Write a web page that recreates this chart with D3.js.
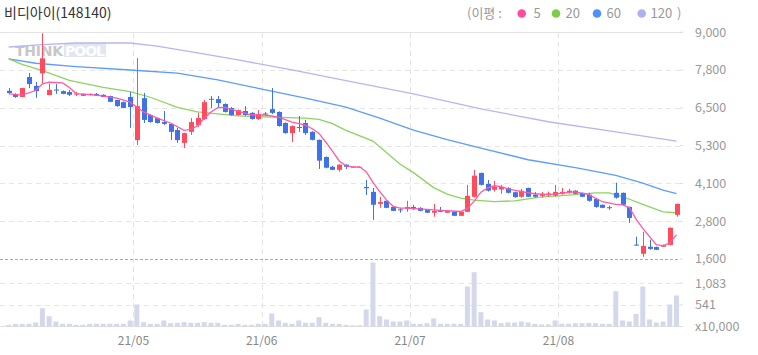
<!DOCTYPE html>
<html>
<head>
<meta charset="utf-8">
<script src="https://cdn.jsdelivr.net/npm/d3@7"></script>
<style>
body { margin: 0; background: #fff; }
svg { display: block; font-family: "Noto Sans CJK KR", "Noto Sans", sans-serif; }
</style>
</head>
<body>
<svg id="chart" width="758" height="355"></svg>
<script>
// 일봉 데이터 (2021-04 ~ 2021-08)
let opens = [7090, 6980, 6890, 7540, 7250, 7660, 6950, 7130, 7080, 7050,
    6970, 6990, 6950, 6990, 6960, 6920, 6790, 6720, 6890, 5480,
    6850, 6300, 6200, 6070, 6010, 5810, 5390, 5750, 5970, 6170,
    6830, 6820, 6660, 6530, 6300, 6430, 6370, 6170, 6350, 6490,
    6400, 6040, 5710, 5910, 6040, 5750, 5490, 4930, 4610, 4510,
    4680, 4610, 4610, 3950, 3790, 3400, 3500, 3300, 3220, 3240,
    3300, 3270, 3200, 3110, 3200, 3110, 3140, 3010, 3140, 3630,
    4410, 4050, 3860, 3870, 3920, 3780, 3630, 3920, 3700, 3660,
    3680, 3670, 3730, 3770, 3830, 3760, 3700, 3560, 3370, 3290,
    3760, 3760, 3300, 2070, 1770, 2000, 1990, 2000, 2060, 3040];
let highs = [7180, 7010, 7190, 7670, 7380, 8970, 7330, 7310, 7100, 7120,
    7050, 7000, 7010, 7020, 6980, 6930, 6800, 6740, 7050, 8160,
    7020, 6330, 6220, 6430, 6020, 5880, 5720, 6200, 6370, 6790,
    6920, 6920, 6680, 6560, 6480, 6590, 6390, 6460, 6400, 7180,
    6420, 6060, 5960, 6270, 6140, 5770, 5500, 4950, 4640, 4690,
    4690, 4610, 4610, 4180, 3920, 3630, 3510, 3320, 3270, 3500,
    3370, 3290, 3220, 3400, 3300, 3180, 3150, 3150, 4020, 4510,
    4420, 4180, 4150, 4020, 3940, 3800, 3890, 3930, 3790, 3790,
    3800, 4020, 3920, 3890, 3840, 3770, 3760, 3600, 3380, 3340,
    4090, 3770, 3310, 2330, 2490, 2230, 2010, 2070, 2630, 3410];
let lows = [6990, 6860, 6880, 7180, 6860, 7330, 6950, 6990, 6980, 6920,
    6920, 6920, 6940, 6920, 6880, 6720, 6570, 6520, 5880, 5320,
    6040, 6050, 6020, 5970, 5480, 5390, 5220, 5650, 5910, 6140,
    6530, 6530, 6380, 6280, 6280, 6270, 6150, 6140, 6270, 6330,
    5920, 5690, 5420, 5750, 5650, 5470, 4540, 4560, 4500, 4450,
    4540, 4610, 4610, 3690, 2880, 3270, 3260, 3160, 3110, 3140,
    3200, 3160, 3100, 2980, 3130, 3100, 3000, 3000, 3130, 3600,
    4000, 3800, 3800, 3730, 3740, 3600, 3600, 3620, 3600, 3600,
    3630, 3630, 3700, 3730, 3720, 3620, 3470, 3270, 3260, 3210,
    3570, 3360, 2780, 2030, 1670, 1900, 1890, 1990, 2050, 2980];
let closes = [7020, 6890, 7180, 7310, 7080, 8150, 7120, 7100, 6990, 6960,
    7000, 6930, 6990, 6930, 6890, 6730, 6590, 6530, 6560, 6590,
    6140, 6070, 6040, 6010, 5750, 5480, 5710, 6070, 6200, 6720,
    6800, 6690, 6400, 6300, 6460, 6300, 6170, 6330, 6320, 6370,
    5940, 5710, 5940, 5880, 5710, 5490, 4810, 4580, 4510, 4680,
    4610, 4610, 4610, 3910, 3370, 3460, 3270, 3170, 3200, 3300,
    3240, 3170, 3110, 3170, 3140, 3170, 3010, 3140, 3660, 4320,
    4020, 3830, 3950, 3950, 3760, 3620, 3830, 3630, 3630, 3730,
    3740, 3790, 3790, 3830, 3730, 3630, 3500, 3300, 3270, 3270,
    3600, 3370, 2940, 2040, 2030, 1930, 1900, 2060, 2620, 3400];
// 거래량 (단위: 만주)
let volumes = [42, 65, 65, 67, 100, 457, 257, 125, 67, 67,
    42, 42, 62, 67, 67, 67, 67, 67, 150, 550,
    108, 67, 67, 150, 82, 92, 108, 92, 92, 108,
    92, 92, 42, 42, 67, 42, 42, 67, 67, 325,
    150, 92, 67, 150, 92, 92, 232, 92, 67, 67,
    42, 30, 30, 425, 1600, 257, 175, 125, 125, 150,
    67, 67, 82, 200, 67, 67, 67, 67, 1000, 1357,
    357, 175, 150, 82, 100, 100, 125, 100, 67, 50,
    50, 150, 67, 67, 82, 82, 92, 82, 67, 67,
    882, 150, 125, 317, 1000, 175, 100, 125, 550, 775];

// 이동평균선 [봉 index, 값]
let ma5 = [[0, 6990], [2, 6950], [4, 7100], [5, 7320], [6, 7370], [8, 7350], [9, 7200], [10, 7000],
    [13, 6950], [16, 6850], [18, 6720], [20, 6400], [22, 6200], [24, 6040], [26, 5800], [27, 5830],
    [28, 5950], [29, 6200], [30, 6400], [31, 6540], [32, 6550], [34, 6430], [36, 6300], [38, 6300],
    [40, 6230], [42, 6070], [44, 5970], [45, 5850], [46, 5700], [47, 5420], [48, 5120], [49, 4800],
    [50, 4640], [51, 4610], [52, 4610], [53, 4450], [54, 4100], [55, 3800], [56, 3530], [57, 3320],
    [58, 3260], [59, 3260], [62, 3220], [64, 3190], [67, 3150], [68, 3250], [69, 3480], [70, 3780],
    [71, 3920], [72, 3990], [73, 3960], [74, 3890], [76, 3800], [78, 3730], [80, 3700], [82, 3750],
    [84, 3790], [86, 3700], [88, 3470], [90, 3380], [91, 3370], [92, 3280], [93, 2900], [94, 2600],
    [95, 2330], [96, 2070], [97, 2030], [98, 2130], [99, 2390]];
let ma20 = [[0, 8130], [2, 7950], [5, 7750], [9, 7430], [14, 7200], [18, 7060], [21, 6880], [25, 6550],
    [28, 6400], [34, 6270], [39, 6230], [44, 6200], [46, 6160], [48, 6020], [50, 5800], [54, 5450],
    [58, 4700], [60, 4420], [63, 3930], [65, 3720], [67, 3590], [69, 3520], [72, 3470], [75, 3500],
    [79, 3630], [82, 3670], [87, 3760], [89, 3760], [91, 3640], [94, 3380], [97, 3140], [99, 3110]];
let ma60 = [[0, 8130], [4, 7990], [10, 7880], [18, 7770], [25, 7670], [31, 7450], [37, 7170], [44, 6850],
    [50, 6560], [55, 6200], [60, 5810], [65, 5500], [70, 5220], [77, 4840], [84, 4580], [90, 4330],
    [94, 4080], [97, 3850], [99, 3730]];
let ma120 = [[0, 8520], [5, 8600], [10, 8650], [18, 8650], [22, 8550], [28, 8330], [34, 8100], [42, 7770],
    [50, 7420], [60, 6990], [70, 6500], [80, 6080], [90, 5750], [99, 5450]];

let monthLabels = ['21/05', '21/06', '21/07', '21/08'];
let monthStarts = [19, 38, 60, 82];
let priceTicks = [9000, 7767, 6533, 5300, 4067, 2833, 1600];
let priceTickLabels = ['9,000', '7,800', '6,500', '5,300', '4,100', '2,800', '1,600'];
let volumeTicks = [1083, 541, 0];
let volumeTickLabels = ['1,083', '541', 'x10,000'];
let maNames = ['5', '20', '60', '120'];
let maColors = ['#ff5aa5', '#8dd35f', '#5c9cff', '#b7b6f1'];
let maDotColors = ['#ff4aa0', '#7fcc4a', '#4d90ff', '#b0b0f0'];

let svg = d3.select('#chart');
let upColor = '#ff4b5c';
let downColor = '#3f72e8';

// 스케일
let n = closes.length;
let xScale = d3.scaleBand()
    .domain(d3.range(n))
    .range([5.3, 679.9])
    .paddingInner(0.26)
    .paddingOuter(0.13);
let bw = xScale.bandwidth();
let cx = function (i) { return xScale(i) + bw / 2; };
let yScale = d3.scaleLinear().domain([1600, 9000]).range([259, 32.3]);
let vScale = d3.scaleLinear().domain([0, 1624]).range([326.5, 261.5]);

// 제목
svg.append('text')
    .attr('x', 4).attr('y', 18)
    .attr('font-size', 14).attr('fill', '#333')
    .text('비디아이(148140)');

// 범례
let lg = svg.append('g').attr('font-size', 13).attr('fill', '#999');
lg.append('text').attr('x', 467).attr('y', 18).text('(이평 :');
let dotX = [521.7, 556, 597, 641.7];
let labX = [533.5, 565.5, 606.5, 650.5];
maNames.forEach(function (name, i) {
    lg.append('circle').attr('cx', dotX[i]).attr('cy', 13.5).attr('r', 4.3).attr('fill', maDotColors[i]);
    lg.append('text').attr('x', labX[i]).attr('y', 18).text(name);
});
lg.append('text').attr('x', 677).attr('y', 18).text(')');

// 워터마크
let wm = svg.append('g').attr('opacity', 0.55);
wm.append('rect').attr('x', 64).attr('y', 43).attr('width', 42).attr('height', 14).attr('fill', '#c9d2e4');
wm.append('text').attr('x', 15).attr('y', 56)
    .attr('font-family', 'DejaVu Sans').attr('font-weight', 'bold').attr('font-size', 14)
    .attr('fill', '#9a9a9a').attr('textLength', 48).text('THINK');
wm.append('text').attr('x', 65).attr('y', 56)
    .attr('font-family', 'DejaVu Sans').attr('font-weight', 'bold').attr('font-size', 14)
    .attr('fill', '#fff').attr('textLength', 40).text('POOL');

// 그리드
let grid = svg.append('g');
grid.append('line').attr('x1', 0).attr('x2', 682).attr('y1', 32.5).attr('y2', 32.5)
    .attr('stroke', '#e3e3e3');
priceTicks.slice(1, -1).forEach(function (t) {
    let y = Math.round(yScale(t)) + 0.5;
    grid.append('line').attr('x1', 0).attr('x2', 680).attr('y1', y).attr('y2', y)
        .attr('stroke', '#e6e6e6').attr('stroke-dasharray', '5,4');
});
volumeTicks.slice(0, 2).forEach(function (t) {
    let y = Math.round(vScale(t)) + 0.5;
    grid.append('line').attr('x1', 0).attr('x2', 680).attr('y1', y).attr('y2', y)
        .attr('stroke', '#e6e6e6').attr('stroke-dasharray', '5,4');
});
monthStarts.forEach(function (m) {
    let x = Math.round(xScale(m) - (xScale.step() - bw) / 2) + 0.5;
    grid.append('line').attr('x1', x).attr('x2', x).attr('y1', 33).attr('y2', 326)
        .attr('stroke', '#e3e3e3').attr('stroke-dasharray', '5,4');
});
grid.append('line').attr('x1', 0).attr('x2', 680).attr('y1', 259.5).attr('y2', 259.5)
    .attr('stroke', '#aaa').attr('stroke-dasharray', '3,2');
grid.append('line').attr('x1', 0).attr('x2', 680).attr('y1', 326.5).attr('y2', 326.5)
    .attr('stroke', '#e0e0e0');

// 거래량
svg.append('g').selectAll('rect')
    .data(volumes)
    .enter()
    .append('rect')
    .attr('x', function (d, i) { return xScale(i); })
    .attr('y', function (d) { return vScale(d); })
    .attr('width', bw)
    .attr('height', function (d) { return vScale(0) - vScale(d); })
    .attr('fill', '#d3d8ea');

// 이동평균선 (120, 60, 20)
let line = d3.line()
    .x(function (d) { return cx(d[0]); })
    .y(function (d) { return yScale(d[1]); });
let maSeries = [ma5, ma20, ma60, ma120];
[3, 2, 1].forEach(function (k) {
    svg.append('path').attr('d', line(maSeries[k]))
        .attr('fill', 'none').attr('stroke', maColors[k]).attr('stroke-width', 1.3);
});

// 캔들
let candles = svg.append('g').selectAll('g')
    .data(closes)
    .enter()
    .append('g');
candles.append('line')
    .attr('x1', function (d, i) { return Math.round(cx(i)) + 0.5; })
    .attr('x2', function (d, i) { return Math.round(cx(i)) + 0.5; })
    .attr('y1', function (d, i) { return yScale(highs[i]); })
    .attr('y2', function (d, i) { return yScale(lows[i]); })
    .attr('stroke', function (d, i) { return d >= opens[i] ? upColor : downColor; });
candles.append('rect')
    .attr('x', function (d, i) { return Math.round(cx(i)) + 0.5 - 2.5; })
    .attr('y', function (d, i) { return yScale(Math.max(d, opens[i])); })
    .attr('width', 5)
    .attr('height', function (d, i) {
        return Math.max(1, Math.abs(yScale(d) - yScale(opens[i])));
    })
    .attr('fill', function (d, i) { return d >= opens[i] ? upColor : downColor; });

// 5일선
svg.append('path').attr('d', line(ma5))
    .attr('fill', 'none').attr('stroke', maColors[0]).attr('stroke-width', 1.3);

// 오른쪽 축
let axisG = svg.append('g').attr('font-size', 12.5).attr('fill', '#999');
priceTicks.forEach(function (t, i) {
    let y = yScale(t);
    axisG.append('line').attr('x1', 680).attr('x2', 683).attr('y1', y).attr('y2', y).attr('stroke', '#ddd');
    axisG.append('text').attr('x', 695).attr('y', y).attr('dy', '0.35em').text(priceTickLabels[i]);
});
volumeTicks.forEach(function (t, i) {
    let y = vScale(t);
    axisG.append('line').attr('x1', 680).attr('x2', 683).attr('y1', y).attr('y2', y).attr('stroke', '#ddd');
    axisG.append('text').attr('x', 695).attr('y', y).attr('dy', '0.35em').text(volumeTickLabels[i]);
});

// 날짜 축
let dateG = svg.append('g').attr('font-size', 12).attr('fill', '#888').attr('text-anchor', 'middle');
monthStarts.forEach(function (m, i) {
    let x = xScale(m) - (xScale.step() - bw) / 2;
    dateG.append('text').attr('x', x).attr('y', 341).attr('dy', '0.35em').text(monthLabels[i]);
});
</script>
</body>
</html>
